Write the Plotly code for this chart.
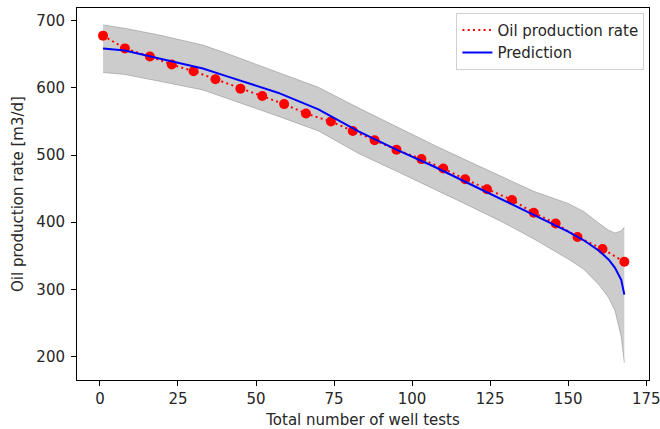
import plotly.graph_objects as go

# Measured oil production rate (well tests)
test_x = [1, 8, 16, 23, 30, 37, 45, 52, 59, 66, 74, 81, 88, 95, 103, 110, 117, 124, 132, 139, 146, 153, 161, 168]
test_rate = [678, 659, 647, 635, 625, 613, 599, 588, 576, 562, 550, 536, 522, 508, 494, 480, 464, 449, 433, 414, 398, 378, 360, 341]

# Prediction with uncertainty band
pred_x = [1, 8, 19, 33, 41, 51, 57, 70, 83, 95, 107, 118, 129, 139, 150, 155, 160, 163, 165, 167, 168]
pred_mean = [659, 656, 644, 629, 617, 602, 593, 568, 535, 508, 483, 458, 433, 410, 386, 373, 357, 344, 332, 314, 292]
pred_upper = [694, 689, 679, 664, 651, 634, 623, 601, 570, 542, 515, 491, 467, 446, 428, 416, 398, 388, 384, 387, 393]
pred_lower = [623, 620, 610, 597, 584, 568, 558, 536, 502, 476, 450, 425, 400, 375, 345, 330, 306, 287, 268, 229, 190]

x_ticks = [0, 25, 50, 75, 100, 125, 150, 175]
y_ticks = [200, 300, 400, 500, 600, 700]

band_col = "rgba(0,0,0,0.2)"
FS = 15

fig = go.Figure()
fig.add_trace(go.Scatter(x=pred_x, y=pred_lower, mode="lines",
                         line=dict(color=band_col, width=1), showlegend=False, hoverinfo="skip"))
fig.add_trace(go.Scatter(x=pred_x, y=pred_upper, mode="lines", fill="tonexty",
                         fillcolor=band_col, line=dict(color=band_col, width=1),
                         showlegend=False, hoverinfo="skip"))
fig.add_trace(go.Scatter(x=test_x, y=test_rate, mode="lines", name="Oil production rate",
                         line=dict(color="#ff0000", width=2, dash="2px,3.3px")))
fig.add_trace(go.Scatter(x=test_x, y=test_rate, mode="markers", showlegend=False,
                         marker=dict(color="#ff0000", size=10, line=dict(width=0))))
fig.add_trace(go.Scatter(x=pred_x, y=pred_mean, mode="lines", name="Prediction",
                         line=dict(color="#0000ff", width=2)))

axis_common = dict(showgrid=False, zeroline=False, showline=True, mirror=True,
                   linecolor="#000000", linewidth=1, ticks="outside", ticklen=5,
                   tickwidth=1, tickcolor="#000000",
                   automargin=False, ticklabeloverflow="allow",
                   tickfont=dict(family="DejaVu Sans", size=FS, color="#262626"),
                   title_font=dict(family="DejaVu Sans", size=FS, color="#262626"))

fig.update_xaxes(range=[-7.35, 175.9], tickvals=x_ticks, ticklabelstandoff=0,
                 title_text="Total number of well tests", title_standoff=12, **axis_common)
fig.update_yaxes(range=[164.8, 719.2], tickvals=y_ticks, ticklabelstandoff=3,
                 title_text="Oil production rate [m3/d]", title_standoff=9, **axis_common)

fig.update_layout(
    width=660, height=429,
    margin=dict(l=77, r=11, t=8, b=49),
    paper_bgcolor="white", plot_bgcolor="white",
    font=dict(family="DejaVu Sans", size=FS, color="#262626"),
    legend=dict(x=0.992, y=0.987, xanchor="right", yanchor="top", traceorder="normal",
                bgcolor="rgba(255,255,255,0.8)", bordercolor="#d0d0d0", borderwidth=1,
                font=dict(family="DejaVu Sans", size=FS, color="#262626"),
                tracegroupgap=0, itemwidth=30),
)

fig.write_html("out.html")
